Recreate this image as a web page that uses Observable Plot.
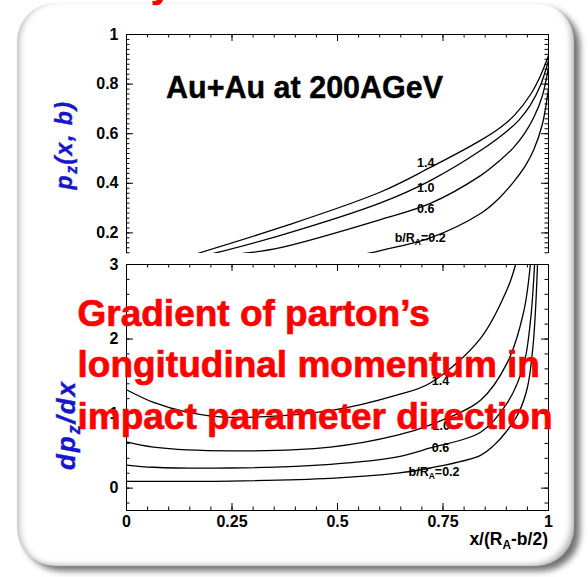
<!DOCTYPE html>
<html><head><meta charset="utf-8">
<script src="https://cdn.jsdelivr.net/npm/d3@7"></script>
<script src="https://cdn.jsdelivr.net/npm/@observablehq/plot@0.6"></script>
<style>
html,body{margin:0;padding:0;background:#fff;}
#wrap{position:relative;width:588px;height:577px;overflow:hidden;background:#fff;font-family:"Liberation Sans",Arial,Helvetica,sans-serif;}
#card{position:absolute;left:17px;top:3px;width:557px;height:563px;border-radius:38px;background:#fff;
 box-shadow: 6px 5px 6px rgba(0,0,0,0.55), inset 6px 0 7px -4px rgba(0,0,0,0.3), inset -6px -4px 7px -4px rgba(0,0,0,0.35);}
.abs{position:absolute;white-space:nowrap;line-height:1;}
.sub{font-size:0.68em;position:relative;top:0.3em;}
</style></head><body><div id="wrap"><div id="card"></div></div>
<script>
// ---------- data ----------
const xTickVals = [0, 0.25, 0.5, 0.75, 1];
const xTickLabels = ["0", "0.25", "0.5", "0.75", "1"];
const topYTickVals = [0.2, 0.4, 0.6, 0.8, 1];
const topYTickLabels = ["0.2", "0.4", "0.6", "0.8", "1"];
const botYTickVals = [0, 1, 2, 3];
const botYTickLabels = ["0", "1", "2", "3"];
const bRatios = ["1.4", "1.0", "0.6", "0.2"];

// top panel: p_z(x, b)
const pzX_14 = [0.168, 0.365, 0.602, 0.720, 0.839, 0.886, 0.920, 0.957, 0.981, 1.0];
const pzY_14 = [0.117, 0.222, 0.365, 0.464, 0.573, 0.625, 0.676, 0.757, 0.834, 0.915];
const pzX_10 = [0.206, 0.365, 0.602, 0.720, 0.839, 0.905, 0.930, 0.957, 0.981, 1.0];
const pzY_10 = [0.117, 0.190, 0.321, 0.411, 0.532, 0.615, 0.655, 0.715, 0.795, 0.895];
const pzX_06 = [0.275, 0.365, 0.602, 0.720, 0.839, 0.880, 0.917, 0.943, 0.965, 0.985, 1.0];
const pzY_06 = [0.117, 0.141, 0.254, 0.319, 0.431, 0.485, 0.544, 0.600, 0.665, 0.750, 0.867];
const pzX_02 = [0.571, 0.602, 0.720, 0.839, 0.880, 0.917, 0.945, 0.965, 0.985, 1.0];
const pzY_02 = [0.117, 0.129, 0.180, 0.278, 0.335, 0.405, 0.470, 0.535, 0.635, 0.782];

// bottom panel: dp_z/dx
const dpX_14 = [0, 0.064, 0.144, 0.246, 0.483, 0.642, 0.720, 0.839, 0.903, 0.922];
const dpY_14 = [1.32, 1.15, 1.02, 0.95, 1.04, 1.25, 1.41, 2.01, 2.68, 3.0];
const dpX_10 = [0, 0.064, 0.246, 0.483, 0.642, 0.720, 0.839, 0.903, 0.941, 0.957];
const dpY_10 = [0.62, 0.55, 0.50, 0.55, 0.71, 0.85, 1.18, 1.69, 2.36, 3.0];
const dpX_06 = [0, 0.064, 0.246, 0.483, 0.642, 0.720, 0.839, 0.903, 0.941, 0.957, 0.967];
const dpY_06 = [0.31, 0.28, 0.27, 0.32, 0.42, 0.54, 0.75, 1.15, 1.65, 2.23, 3.0];
const dpX_02 = [0, 0.246, 0.483, 0.642, 0.720, 0.839, 0.870, 0.903, 0.930, 0.950, 0.964, 0.974];
const dpY_02 = [0.09, 0.095, 0.13, 0.20, 0.27, 0.44, 0.57, 0.78, 1.02, 1.35, 1.95, 3.0];

// curve label anchors (data units)
const topLabelX = [0.709, 0.709, 0.709];
const topLabelY = [0.480, 0.383, 0.298];
const topBLabel = [0.697, 0.177];
const botLabelX = [0.744, 0.746, 0.744];
const botLabelY = [1.44, 0.83, 0.54];
const botBLabel = [0.730, 0.21];

// ---------- build ----------
function rows(xs, ys, b) { return xs.map((x, i) => ({x, y: ys[i], b})); }
const topRows = [
  ...rows(pzX_14, pzY_14, bRatios[0]), ...rows(pzX_10, pzY_10, bRatios[1]),
  ...rows(pzX_06, pzY_06, bRatios[2]), ...rows(pzX_02, pzY_02, bRatios[3])];
const botRows = [
  ...rows(dpX_14, dpY_14, bRatios[0]), ...rows(dpX_10, dpY_10, bRatios[1]),
  ...rows(dpX_06, dpY_06, bRatios[2]), ...rows(dpX_02, dpY_02, bRatios[3])];

const FONT = "Liberation Sans, Arial, Helvetica, sans-serif";
const wrap = document.getElementById("wrap");

function tickMarks(xdom, ydom, wpx, hpx, xMajor, xMinor, yMajor, yMinor, sides) {
  const dx = (xdom[1] - xdom[0]) / wpx, dy = (ydom[1] - ydom[0]) / hpx;
  const M = 7, m = 3.5, out = [];
  const st = {stroke: "black", strokeWidth: 1};
  for (const [vals, L] of [[xMajor, M], [xMinor, m]]) {
    if (sides.includes("b")) out.push(Plot.ruleX(vals, {x: d => d, y1: ydom[0], y2: ydom[0] + L * dy, ...st}));
    if (sides.includes("t")) out.push(Plot.ruleX(vals, {x: d => d, y1: ydom[1], y2: ydom[1] - L * dy, ...st}));
  }
  for (const [vals, L] of [[yMajor, M], [yMinor, m]]) {
    if (sides.includes("l")) out.push(Plot.ruleY(vals, {y: d => d, x1: xdom[0], x2: xdom[0] + L * dx, ...st}));
    if (sides.includes("r")) out.push(Plot.ruleY(vals, {y: d => d, x1: xdom[1], x2: xdom[1] - L * dx, ...st}));
  }
  return out;
}

function bLabel(svg, xs, ys, pos) {
  const t = d3.select(svg).append("text")
    .attr("x", xs.apply(pos[0])).attr("y", ys.apply(pos[1]))
    .attr("dy", "0.32em").attr("text-anchor", "middle")
    .attr("font-size", 12.5).attr("font-weight", "bold").attr("font-family", FONT).attr("fill", "black");
  t.append("tspan").text("b/R");
  t.append("tspan").attr("dy", 3).attr("font-size", 8.5).text("A");
  t.append("tspan").attr("dy", -3).text("=" + bRatios[3]);
}

const xMinor = d3.range(0, 1.0001, 0.05);
const axisStyle = {background: "transparent", fontFamily: FONT, fontSize: "16px", fontWeight: "bold", color: "black", overflow: "visible"};

// top panel
const topYDom = [0.117, 1];
const topPlot = Plot.plot({
  width: 588, height: 253,
  marginLeft: 126, marginRight: 40, marginTop: 34, marginBottom: 0,
  style: axisStyle,
  x: {domain: [0, 1], axis: null},
  y: {domain: topYDom, ticks: topYTickVals, tickFormat: d => topYTickLabels[topYTickVals.indexOf(d)], tickSize: 0, tickPadding: 8, label: null},
  marks: [
    Plot.line(topRows, {x: "x", y: "y", z: "b", stroke: "black", strokeWidth: 1.3, curve: "catmull-rom", clip: true}),
    Plot.ruleX([0, 1], {stroke: "black"}),
    Plot.ruleY([1], {stroke: "black"}),
    ...tickMarks([0, 1], topYDom, 422, 219, xTickVals, xMinor, topYTickVals, d3.range(0.12, 1.0001, 0.02), "tlr"),
    Plot.text(bRatios.slice(0, 3), {x: (d, i) => topLabelX[i], y: (d, i) => topLabelY[i], text: d => d, fontSize: 12.5, fontWeight: "bold", fill: "black"})
  ]
});
topPlot.style.position = "absolute"; topPlot.style.left = "0px"; topPlot.style.top = "0px";
wrap.appendChild(topPlot);
bLabel(topPlot, topPlot.scale("x"), topPlot.scale("y"), topBLabel);

// bottom panel
const botTop = 253;
const botYDom = [-0.3, 3];
const botPlot = Plot.plot({
  width: 588, height: 324,
  marginLeft: 126, marginRight: 40, marginTop: 11, marginBottom: 67,
  style: axisStyle,
  x: {domain: [0, 1], ticks: xTickVals, tickFormat: d => xTickLabels[xTickVals.indexOf(d)], tickSize: 0, tickPadding: 5, label: null},
  y: {domain: botYDom, ticks: botYTickVals, tickFormat: d => botYTickLabels[botYTickVals.indexOf(d)], tickSize: 0, tickPadding: 8, label: null},
  marks: [
    Plot.frame({fill: "white"}),
    Plot.line(botRows, {x: "x", y: "y", z: "b", stroke: "black", strokeWidth: 1.3, curve: "catmull-rom", clip: true}),
    Plot.frame({stroke: "black"}),
    ...tickMarks([0, 1], botYDom, 422, 246, xTickVals, xMinor, botYTickVals, d3.range(-0.2, 3.0001, 0.2), "tblr"),
    Plot.text(bRatios.slice(0, 3), {x: (d, i) => botLabelX[i], y: (d, i) => botLabelY[i], text: d => d, fontSize: 12.5, fontWeight: "bold", fill: "black"})
  ]
});
botPlot.style.position = "absolute"; botPlot.style.left = "0px"; botPlot.style.top = botTop + "px";
wrap.appendChild(botPlot);
bLabel(botPlot, botPlot.scale("x"), botPlot.scale("y"), botBLabel);

// ---------- html text ----------
function addText(html, left, baseline, fs, css, anchor) {
  const d = document.createElement("div");
  d.className = "abs";
  d.innerHTML = html;
  d.style.left = left + "px";
  d.style.top = (baseline - 0.8465 * fs) + "px";
  d.style.fontSize = fs + "px";
  Object.assign(d.style, css || {});
  if (anchor === "end") d.style.transform = "translateX(-100%)";
  wrap.appendChild(d);
  return d;
}
function addRot(html, cx, cy, fs, css) {
  const d = document.createElement("div");
  d.className = "abs";
  d.innerHTML = html;
  d.style.left = cx + "px"; d.style.top = cy + "px";
  d.style.fontSize = fs + "px";
  d.style.transform = "translate(-50%,-50%) rotate(-90deg)";
  Object.assign(d.style, css || {});
  wrap.appendChild(d);
}

addText("Au+Au at 200AGeV", 166, 98, 30.5, {fontWeight: "bold", color: "#000", webkitTextStroke: "0.4px #000"});
addText('x/(R<span class="sub">A</span>-b/2)', 548, 546, 17.5, {fontWeight: "bold"}, "end");
const blue = {color: "#1717c8", fontWeight: "bold", fontStyle: "italic", webkitTextStroke: "0.4px #1717c8"};
addRot('p<span class="sub">z</span>(x, b)', 64, 145, 23, {...blue, letterSpacing: "1.5px"});
addRot('dp<span class="sub">z</span>/dx', 66, 425, 26, {...blue, letterSpacing: "2px"});

const red = {color: "#ff0000", fontWeight: "bold", webkitTextStroke: "0.7px #ff0000"};
addText("y", 151, -3, 37, red);
addText("Gradient of parton’s", 77.5, 326, 37, red);
addText("longitudinal momentum in", 77.5, 377.5, 37, red);
addText("impact parameter direction", 77.5, 429, 37, red);
</script></body></html>
